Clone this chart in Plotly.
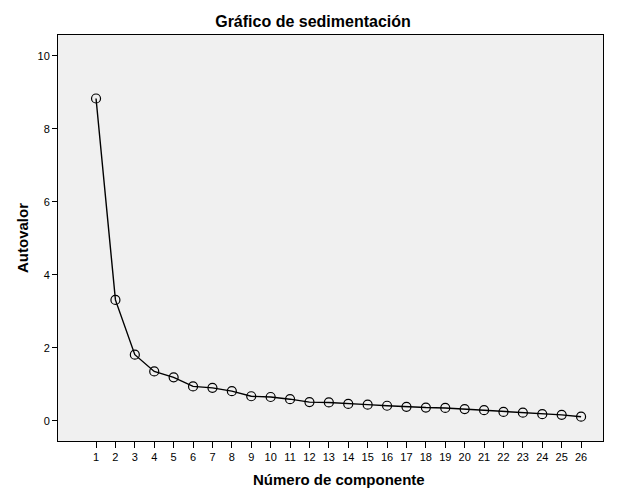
import plotly.graph_objects as go

componentes = list(range(1, 27))
autovalores = [8.83, 3.31, 1.81, 1.35, 1.19, 0.94, 0.90, 0.81, 0.67, 0.65,
               0.59, 0.51, 0.50, 0.46, 0.44, 0.41, 0.38, 0.36, 0.35, 0.32,
               0.29, 0.24, 0.22, 0.18, 0.16, 0.11]
y_ticks = [0, 2, 4, 6, 8, 10]

FONT = "Liberation Sans, Arial, sans-serif"

fig = go.Figure()
fig.add_trace(go.Scatter(
    x=componentes, y=autovalores, mode="lines+markers",
    line=dict(color="black", width=1.4),
    marker=dict(symbol="circle-open", size=9, color="black", line=dict(width=1.2)),
    showlegend=False,
))

fig.update_layout(
    width=626, height=501,
    margin=dict(l=50, r=31, t=27, b=68),
    paper_bgcolor="white", plot_bgcolor="#f0f0f0",
    font=dict(family=FONT, color="black", size=11),
    title=dict(text="<b>Gráfico de sedimentación</b>", x=(313 - 8) / 626, xanchor="center",
               y=1 - 13 / 501, yanchor="middle", font=dict(size=16, family=FONT)),
    annotations=[dict(
        text="<b>Número de componente</b>", xref="paper", yref="paper",
        x=(338.5 - 58) / 545, y=-38 / 406, xanchor="center", yanchor="middle",
        showarrow=False, font=dict(size=15, family=FONT),
    )],
)
fig.update_xaxes(
    range=[-0.96, 27.13], tickmode="array", tickvals=componentes,
    ticktext=[str(c) for c in componentes],
    ticks="outside", ticklen=6, tickcolor="black", tickwidth=1,
    showgrid=False, zeroline=False, automargin=False,
    showline=True, linecolor="black", linewidth=1, mirror=True,
    tickfont=dict(size=11),
)
fig.update_yaxes(
    range=[-0.556, 10.57], tickmode="array", tickvals=y_ticks,
    ticks="outside", ticklen=5, tickcolor="black", tickwidth=1,
    showgrid=False, zeroline=False, automargin=False,
    showline=True, linecolor="black", linewidth=1, mirror=True,
    title=dict(text="<b>Autovalor</b>", font=dict(size=15, family=FONT), standoff=5),
    tickfont=dict(size=11),
)

fig.write_html("out.html")
